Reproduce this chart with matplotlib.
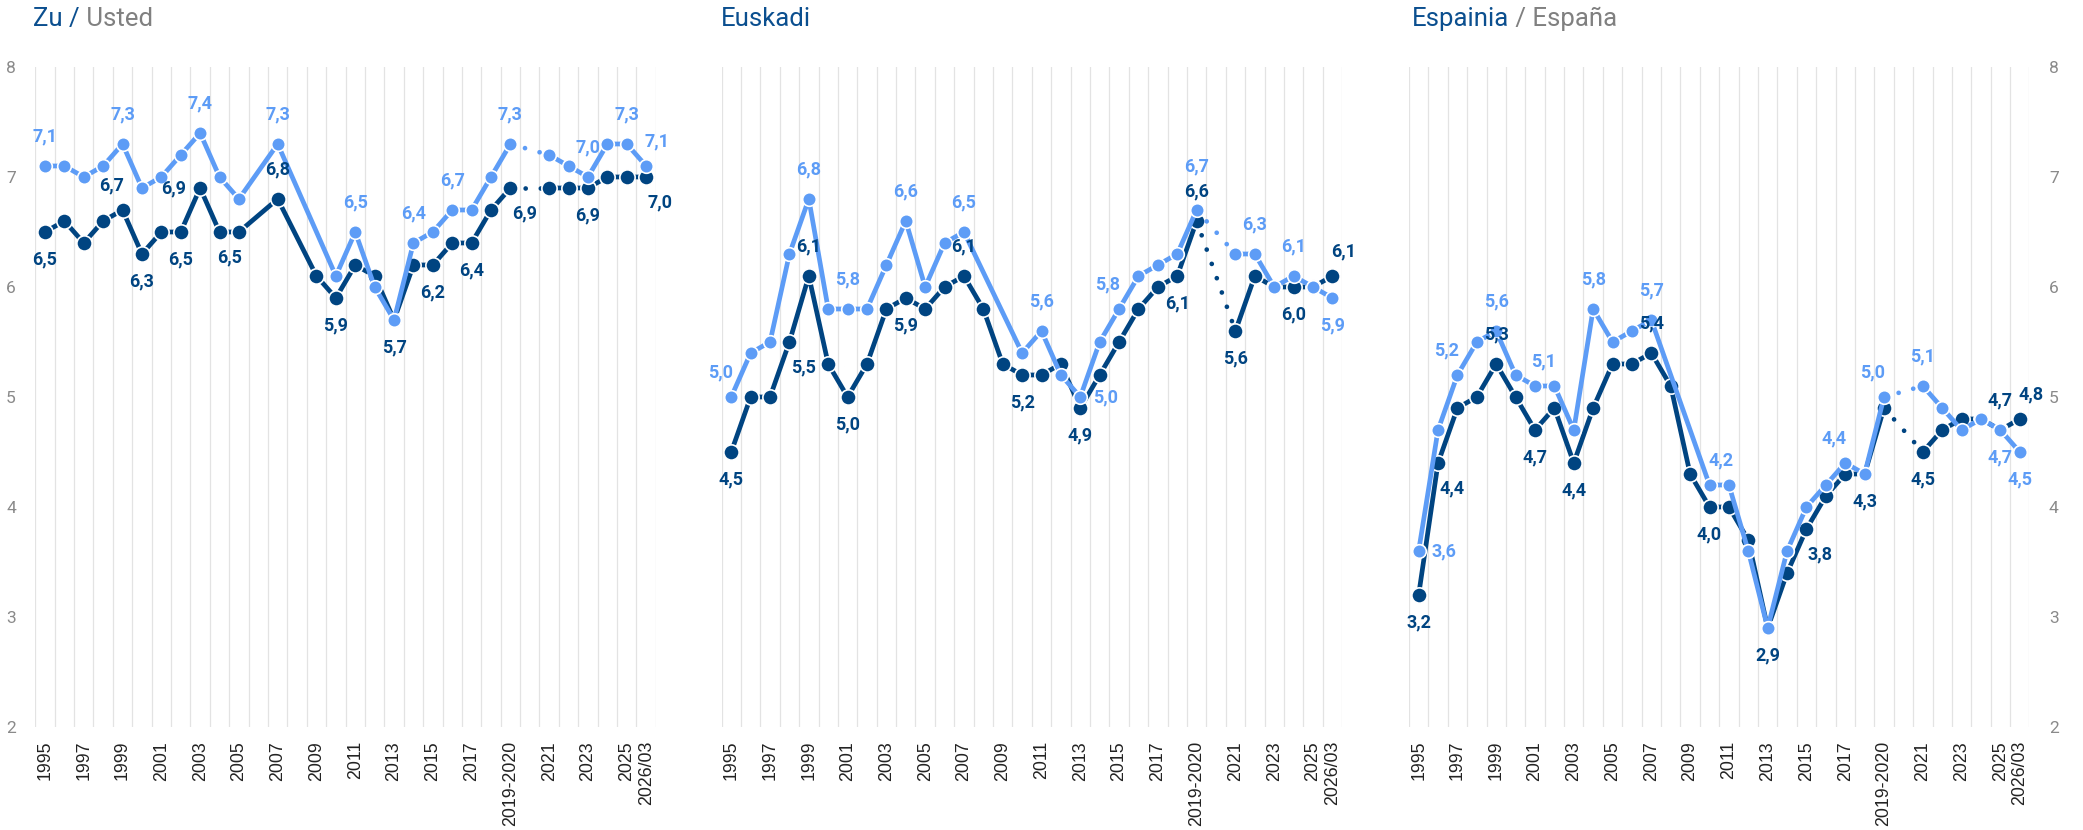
import numpy as np
import matplotlib.pyplot as plt

nan = np.nan

# categories (index 25 is an empty slot bridged by a dotted line)
years = [str(y) for y in range(1995, 2019)] + ['2019-2020', '', '2021', '2022', '2023', '2024', '2025', '2026/03']

# Zu / Usted
usted_light = [7.1, 7.1, 7.0, 7.1, 7.3, 6.9, 7.0, 7.2, 7.4, 7.0, 6.8, nan, 7.3, nan, nan, 6.1,
               6.5, 6.0, 5.7, 6.4, 6.5, 6.7, 6.7, 7.0, 7.3, nan, 7.2, 7.1, 7.0, 7.3, 7.3, 7.1]
usted_dark = [6.5, 6.6, 6.4, 6.6, 6.7, 6.3, 6.5, 6.5, 6.9, 6.5, 6.5, nan, 6.8, nan, 6.1, 5.9,
              6.2, 6.1, 5.7, 6.2, 6.2, 6.4, 6.4, 6.7, 6.9, nan, 6.9, 6.9, 6.9, 7.0, 7.0, 7.0]

# Euskadi
eus_light = [5.0, 5.4, 5.5, 6.3, 6.8, 5.8, 5.8, 5.8, 6.2, 6.6, 6.0, 6.4, 6.5, nan, nan, 5.4,
             5.6, 5.2, 5.0, 5.5, 5.8, 6.1, 6.2, 6.3, 6.7, nan, 6.3, 6.3, 6.0, 6.1, 6.0, 5.9]
eus_dark = [4.5, 5.0, 5.0, 5.5, 6.1, 5.3, 5.0, 5.3, 5.8, 5.9, 5.8, 6.0, 6.1, 5.8, 5.3, 5.2,
            5.2, 5.3, 4.9, 5.2, 5.5, 5.8, 6.0, 6.1, 6.6, nan, 5.6, 6.1, 6.0, 6.0, 6.0, 6.1]

# Espainia / España
esp_light = [3.6, 4.7, 5.2, 5.5, 5.6, 5.2, 5.1, 5.1, 4.7, 5.8, 5.5, 5.6, 5.7, nan, nan, 4.2,
             4.2, 3.6, 2.9, 3.6, 4.0, 4.2, 4.4, 4.3, 5.0, nan, 5.1, 4.9, 4.7, 4.8, 4.7, 4.5]
esp_dark = [3.2, 4.4, 4.9, 5.0, 5.3, 5.0, 4.7, 4.9, 4.4, 4.9, 5.3, 5.3, 5.4, 5.1, 4.3, 4.0,
            4.0, 3.7, 2.9, 3.4, 3.8, 4.1, 4.3, 4.3, 4.9, nan, 4.5, 4.7, 4.8, 4.8, 4.7, 4.8]

# which points carry a value label and where it sits
lab_usted_light = {0: 'a', 4: 'a', 8: 'a', 12: 'a', 16: 'a', 19: 'a', 21: 'a', 24: 'a',
                   28: 'a', 30: 'a', 31: 'ar'}
lab_usted_dark = {0: 'b', 4: 'al', 5: 'b', 7: 'b', 8: 'l', 10: 'bl', 12: 'a', 15: 'b',
                  18: 'b', 20: 'b', 22: 'b', 24: 'br', 28: 'b', 31: 'br'}
lab_eus_light = {0: 'al', 4: 'a', 6: 'a', 9: 'a', 12: 'a', 16: 'a', 18: 'r', 20: 'al',
                 24: 'aa', 27: 'a', 29: 'a', 31: 'b'}
lab_eus_dark = {0: 'b', 3: 'br', 4: 'a', 6: 'b', 9: 'b', 12: 'a', 15: 'b', 18: 'b',
                23: 'b', 24: 'a', 26: 'b', 29: 'b', 31: 'ar'}
lab_esp_light = {0: 'r', 2: 'al', 4: 'a', 7: 'al', 9: 'a', 12: 'a', 15: 'ar', 22: 'al',
                 24: 'al', 26: 'a', 30: 'b', 31: 'b'}
lab_esp_dark = {0: 'b', 1: 'br', 4: 'a', 6: 'b', 8: 'b', 12: 'a', 15: 'b', 18: 'b',
                20: 'br', 23: 'b', 26: 'b', 30: 'a', 31: 'ar'}

offsets = {'a': (0, 21), 'aa': (0, 31), 'b': (0, -20), 'l': (-19, 0), 'r': (18, 0),
           'al': (-8, 18), 'ar': (8, 18), 'br': (10, -18), 'bl': (-7, -18)}

DARK = '#004481'
LIGHT = '#5d9cf6'
GAP = 25

plt.rcParams['font.family'] = ['Roboto', 'DejaVu Sans']

fig = plt.figure(figsize=(20.83, 8.3), dpi=100)


def draw_series(ax, vals, color, ms, z, labels):
    x = np.arange(len(vals))
    v = np.array(vals, dtype=float)
    ok = ~np.isnan(v)
    before = ok & (x < GAP)
    after = ok & (x > GAP)
    for m in (before, after):
        ax.plot(x[m], v[m], color=color, lw=3.4, marker='o', ms=ms, mfc=color,
                mec='white', mew=1.2, zorder=z, solid_joinstyle='round')
    # dotted bridge over the empty slot
    ax.plot([GAP - 1, GAP + 1], [v[GAP - 1], v[GAP + 1]], color=color, lw=3.4,
            linestyle=(0, (0.01, 3.2)), dash_capstyle='round', zorder=z - 0.5)
    for i, pos in labels.items():
        txt = f'{v[i]:.1f}'.replace('.', ',')
        ax.annotate(txt, (i, v[i]), xytext=offsets[pos], textcoords='offset points',
                    ha='center', va='center', color=color, fontsize=13,
                    fontweight='bold', zorder=10)


panels = [
    (0.01695, usted_light, usted_dark, lab_usted_light, lab_usted_dark, 'left'),
    (0.3464, eus_light, eus_dark, lab_eus_light, lab_eus_dark, None),
    (0.6764, esp_light, esp_dark, lab_esp_light, lab_esp_dark, 'right'),
]

for left, light, dark, ll, dl, yside in panels:
    ax = fig.add_axes([left, 0.1241, 0.2979, 0.7952])
    ax.set_xlim(-0.5, len(years) - 0.5)
    ax.set_ylim(2, 8)
    for s in ax.spines.values():
        s.set_visible(False)
    ax.set_xticks(np.arange(-0.5, len(years), 1), minor=True)
    ax.grid(which='minor', axis='x', color='#e3e3e3', lw=0.9, zorder=0)
    ax.tick_params(which='both', length=0)
    ticks = list(range(0, 31, 2)) + [31]
    ax.set_xticks(ticks)
    ax.set_xticklabels([years[i] for i in ticks], rotation=90, fontsize=12.8,
                       family='Liberation Sans', color='#222222')
    ax.tick_params(axis='x', pad=10)
    ax.set_yticks(range(2, 9))
    if yside == 'left':
        ax.tick_params(axis='y', labelsize=12.5, labelcolor='#8a8a8a', pad=14)
    elif yside == 'right':
        ax.yaxis.tick_right()
        ax.tick_params(axis='y', labelsize=12.5, labelcolor='#8a8a8a', pad=14)
    else:
        ax.set_yticklabels([])

    draw_series(ax, dark, DARK, 11, 3, dl)
    draw_series(ax, light, LIGHT, 9.8, 5, ll)

# panel titles, two colours each
titles = [(0.0159, 'Zu /', ' Usted'), (0.3462, 'Euskadi', ''), (0.6777, 'Espainia', ' / España')]
fig.canvas.draw()
for x, first, second in titles:
    t1 = fig.text(x, 0.9687, first, color='#0b4f8f', fontsize=18.5, va='baseline')
    if second:
        fig.canvas.draw()
        bb = t1.get_window_extent()
        x2 = bb.x1 / fig.bbox.width
        fig.text(x2, 0.9687, second, color='#808080', fontsize=18.5, va='baseline')

plt.savefig('out.png', dpi=100)
